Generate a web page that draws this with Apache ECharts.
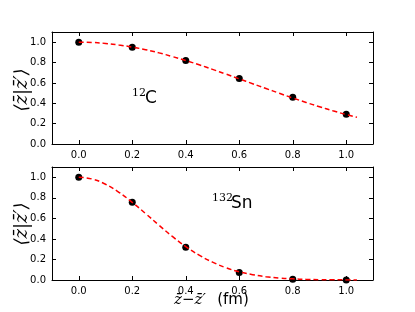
<!DOCTYPE html>
<html>
<head>
<meta charset="utf-8">
<script src="https://cdn.jsdelivr.net/npm/echarts@6/dist/echarts.min.js"></script>
<style>
html,body{margin:0;padding:0;background:#fff;}
#chart{width:415px;height:312px;}
</style>
</head>
<body>
<div id="chart"></div>
<script>
// Data
const xPoints = [0.0, 0.2, 0.4, 0.6, 0.8, 1.0];
const c12Values = [1.0, 0.95, 0.82, 0.643, 0.458, 0.292];
const sn132Values = [1.0, 0.756, 0.318, 0.073, 0.008, 0.001];
const curveX = [0, 0.05, 0.1, 0.15, 0.2, 0.25, 0.3, 0.35, 0.4, 0.45, 0.5, 0.55, 0.6, 0.65, 0.7, 0.75, 0.8, 0.85, 0.9, 0.95, 1.0, 1.04];
const c12Curve = [1.0, 0.997, 0.988, 0.972, 0.952, 0.926, 0.895, 0.859, 0.820, 0.778, 0.733, 0.687, 0.640, 0.592, 0.545, 0.498, 0.452, 0.408, 0.366, 0.326, 0.289, 0.262];
const sn132Curve = [1.0, 0.983, 0.932, 0.854, 0.756, 0.646, 0.533, 0.424, 0.326, 0.242, 0.174, 0.120, 0.080, 0.052, 0.032, 0.019, 0.011, 0.006, 0.003, 0.002, 0.001, 0.0005];
const xTicks = [0.0, 0.2, 0.4, 0.6, 0.8, 1.0];
const yTicks = [0.0, 0.2, 0.4, 0.6, 0.8, 1.0];

const chart = echarts.init(document.getElementById('chart'), null, {renderer: 'canvas'});
const FONT = 'DejaVu Sans';

function xAxisDef(grid, pos, labels) {
  return {
    type: 'value', gridIndex: grid, position: pos, min: -0.1, max: 1.1,
    axisLine: {show: true, onZero: false, lineStyle: {color: '#000', width: 1}},
    axisTick: {show: true, inside: true, length: 4, customValues: xTicks, lineStyle: {color: '#000'}},
    axisLabel: {show: labels, customValues: xTicks, formatter: v => v.toFixed(1), color: '#000', fontFamily: FONT, fontSize: 10, margin: 6},
    splitLine: {show: false}
  };
}
function yAxisDef(grid, pos, labels) {
  return {
    type: 'value', gridIndex: grid, position: pos, min: 0, max: 1.1,
    axisLine: {show: true, onZero: false, lineStyle: {color: '#000', width: 1}},
    axisTick: {show: true, inside: true, length: 4, customValues: yTicks, lineStyle: {color: '#000'}},
    axisLabel: {show: labels, customValues: yTicks, formatter: v => v.toFixed(1), color: '#000', fontFamily: FONT, fontSize: 10, margin: 6},
    splitLine: {show: false}
  };
}
function pairs(xs, ys) { return xs.map((x, i) => [x, ys[i]]); }

const option = {
  animation: false,
  backgroundColor: '#fff',
  grid: [
    {left: 52, top: 32, width: 321, height: 112},
    {left: 52, top: 167, width: 321, height: 113}
  ],
  xAxis: [xAxisDef(0, 'bottom', true), xAxisDef(0, 'top', false), xAxisDef(1, 'bottom', true), xAxisDef(1, 'top', false)],
  yAxis: [yAxisDef(0, 'left', true), yAxisDef(0, 'right', false), yAxisDef(1, 'left', true), yAxisDef(1, 'right', false)],
  series: [
    {type: 'scatter', xAxisIndex: 0, yAxisIndex: 0, data: pairs(xPoints, c12Values), symbolSize: 7, itemStyle: {color: '#000', opacity: 1}, z: 2},
    {type: 'line', xAxisIndex: 0, yAxisIndex: 0, data: pairs(curveX, c12Curve), showSymbol: false, smooth: true, lineStyle: {color: '#ff0000', width: 1.5, type: [5, 3]}, z: 3},
    {type: 'scatter', xAxisIndex: 2, yAxisIndex: 2, data: pairs(xPoints, sn132Values), symbolSize: 7, itemStyle: {color: '#000', opacity: 1}, z: 2, clip: false},
    {type: 'line', xAxisIndex: 2, yAxisIndex: 2, data: pairs(curveX, sn132Curve), showSymbol: false, smooth: true, lineStyle: {color: '#ff0000', width: 1.5, type: [5, 3]}, z: 3}
  ],
  graphic: [
    {type: 'text', left: 132, top: 88, style: {text: '12', font: '11px "DejaVu Serif"', fill: '#000'}},
    {type: 'text', left: 145, top: 90, style: {text: 'C', font: '17px "DejaVu Sans"', fill: '#000'}},
    {type: 'text', left: 212, top: 193, style: {text: '132', font: '11px "DejaVu Serif"', fill: '#000'}},
    {type: 'text', left: 231, top: 195, style: {text: 'Sn', font: '17px "DejaVu Sans"', fill: '#000'}},
    {type: 'text', x: 22, y: 90, rotation: Math.PI / 2, style: {text: '\u27E8z\u0304|z\u0304\u2032\u27E9', font: 'italic 18px "DejaVu Serif"', fill: '#000', align: 'center', verticalAlign: 'middle'}},
    {type: 'text', x: 22, y: 224, rotation: Math.PI / 2, style: {text: '\u27E8z\u0304|z\u0304\u2032\u27E9', font: 'italic 18px "DejaVu Serif"', fill: '#000', align: 'center', verticalAlign: 'middle'}},
    {type: 'text', x: 190, y: 300, style: {text: 'z\u0304\u2212z\u0304\u2032', font: 'italic 15px "DejaVu Serif"', fill: '#000', align: 'center', verticalAlign: 'middle'}},
    {type: 'text', x: 233, y: 300, style: {text: '(fm)', font: '15px "DejaVu Sans"', fill: '#000', align: 'center', verticalAlign: 'middle'}}
  ]
};
chart.setOption(option);
</script>
</body>
</html>
